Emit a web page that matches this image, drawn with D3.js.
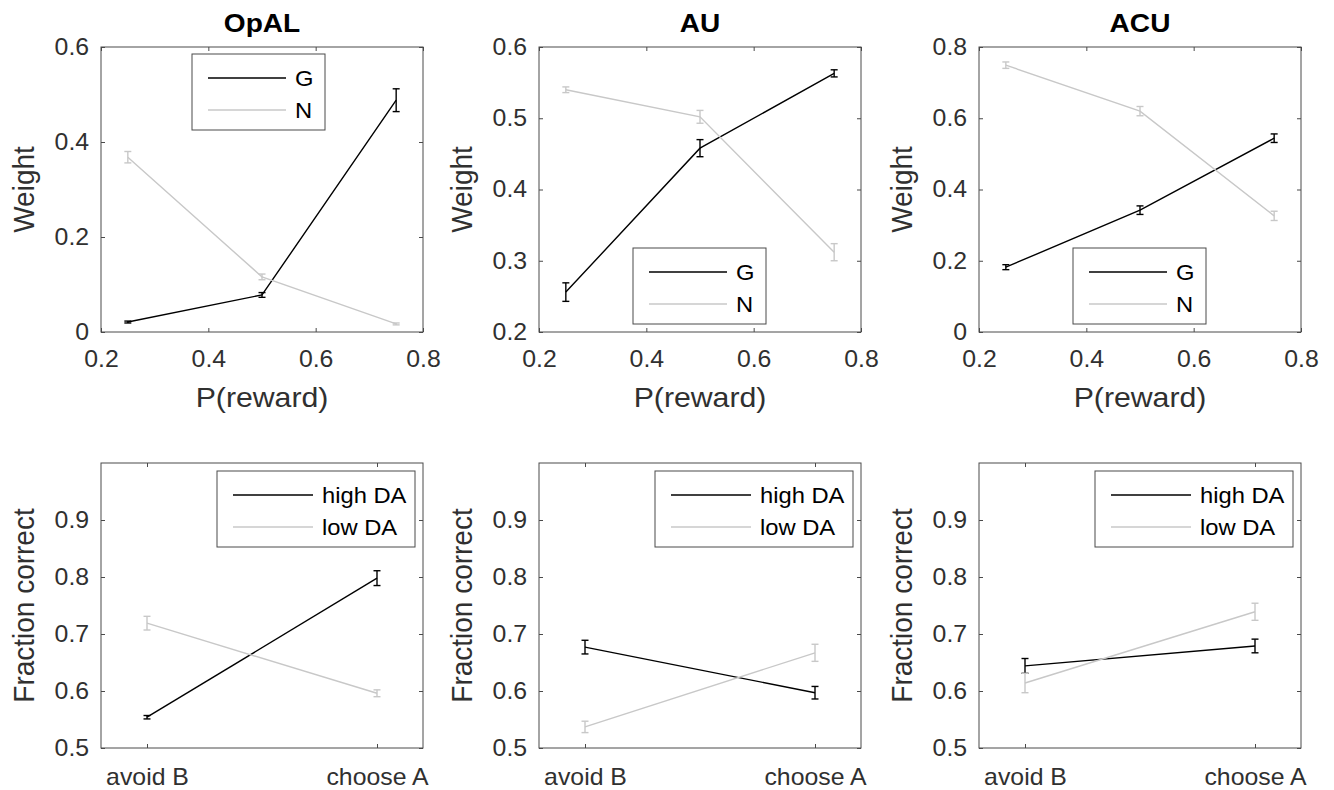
<!DOCTYPE html>
<html>
<head>
<meta charset="utf-8">
<script src="https://cdn.jsdelivr.net/npm/d3@7"></script>
<style>
    body { margin: 0; background: #fff; }
</style>
</head>
<body>
<div id="chart"></div>
<script>
// top row: pathway weights vs reward probability
const models = ["OpAL", "AU", "ACU"];
const pReward = [0.25, 0.5, 0.75];
const rewardTicks = [0.2, 0.4, 0.6, 0.8];
const weightDomains = [[0, 0.6], [0.2, 0.6], [0, 0.8]];
const weightTicks = [[0, 0.2, 0.4, 0.6], [0.2, 0.3, 0.4, 0.5, 0.6], [0, 0.2, 0.4, 0.6, 0.8]];
const gWeight = [[0.021, 0.078, 0.488], [0.256, 0.458, 0.563], [0.182, 0.342, 0.544]];
const gWeightErr = [[0.002, 0.005, 0.024], [0.013, 0.012, 0.005], [0.007, 0.012, 0.012]];
const nWeight = [[0.368, 0.116, 0.017], [0.540, 0.502, 0.312], [0.749, 0.620, 0.326]];
const nWeightErr = [[0.012, 0.006, 0.002], [0.004, 0.009, 0.012], [0.009, 0.013, 0.013]];
const weightLabels = ["G", "N"];

// bottom row: test performance under high / low dopamine
const tests = ["avoid B", "choose A"];
const fracTicks = [0.5, 0.6, 0.7, 0.8, 0.9];
const highDA = [[0.554, 0.798], [0.677, 0.597], [0.644, 0.679]];
const highDAErr = [[0.003, 0.013], [0.012, 0.011], [0.013, 0.012]];
const lowDA = [[0.719, 0.596], [0.537, 0.667], [0.614, 0.739]];
const lowDAErr = [[0.012, 0.006], [0.010, 0.015], [0.017, 0.015]];
const daLabels = ["high DA", "low DA"];

const WIDTH = 1334;
const HEIGHT = 790;
const SX = 1.08; // the source figure is a little stretched horizontally
const FONT = "Arial, 'Liberation Sans', Helvetica, sans-serif";
const AXIS = "#4a4a4a";
const TEXT = "#303030";
const DARK = "#000000";
const LIGHT = "#c8c8c8";

const panelLeft = [101, 539, 979];
const rowTop = [47, 463];
const panelW = 322;
const panelH = 285;

const svg = d3.select("#chart")
    .append("svg")
    .attr("width", WIDTH)
    .attr("height", HEIGHT);

function stretch(x, y, rot) {
    return `translate(${x},${y}) scale(${SX},1)` + (rot ? ` rotate(${rot})` : "");
}

function styleAxis(sel, showText) {
    sel.attr("font-family", FONT).attr("font-size", 23);
    sel.select(".domain").remove();
    sel.selectAll(".tick line").attr("stroke", AXIS);
    if (showText) {
        sel.selectAll(".tick text")
            .attr("fill", TEXT)
            .attr("transform", `scale(${SX},1)`);
    } else {
        sel.selectAll(".tick text").remove();
    }
}

function drawPanel(p) {
    const inner = svg.append("g").attr("transform", `translate(${p.left},${p.top})`);
    const x = p.x;
    const y = p.y;

    // axes, with MATLAB style inward ticks mirrored on all sides
    inner.append("g")
        .attr("transform", `translate(0,${panelH})`)
        .call(d3.axisBottom(x).tickValues(p.xTicks).tickSizeInner(-4).tickSizeOuter(0)
            .tickPadding(p.xPad).tickFormat(p.xFormat))
        .call((s) => styleAxis(s, true));
    inner.append("g")
        .call(d3.axisTop(x).tickValues(p.xTicks).tickSizeInner(-4).tickSizeOuter(0))
        .call((s) => styleAxis(s, false));
    inner.append("g")
        .call(d3.axisLeft(y).tickValues(p.yTicks).tickSizeInner(-4).tickSizeOuter(0)
            .tickPadding(11).tickFormat(d3.format("~g")))
        .call((s) => styleAxis(s, true));
    inner.append("g")
        .attr("transform", `translate(${panelW},0)`)
        .call(d3.axisRight(y).tickValues(p.yTicks).tickSizeInner(-4).tickSizeOuter(0))
        .call((s) => styleAxis(s, false));

    inner.append("rect")
        .attr("width", panelW)
        .attr("height", panelH)
        .attr("fill", "none")
        .attr("stroke", AXIS)
        .attr("stroke-width", 1);

    // series with error bars
    p.series.forEach((s) => {
        const line = d3.line()
            .x((d, i) => x(p.xValues[i]))
            .y((d) => y(d));
        inner.append("path")
            .datum(s.values)
            .attr("d", line)
            .attr("fill", "none")
            .attr("stroke", s.color)
            .attr("stroke-width", 1.4);

        const bars = inner.append("g")
            .selectAll("g")
            .data(s.values)
            .join("g")
            .attr("stroke", s.color)
            .attr("stroke-width", 1.4);
        bars.append("line")
            .attr("x1", (d, i) => x(p.xValues[i]))
            .attr("x2", (d, i) => x(p.xValues[i]))
            .attr("y1", (d, i) => y(d - s.errs[i]))
            .attr("y2", (d, i) => y(d + s.errs[i]));
        [-1, 1].forEach((sign) => {
            bars.append("line")
                .attr("x1", (d, i) => x(p.xValues[i]) - 3.5)
                .attr("x2", (d, i) => x(p.xValues[i]) + 3.5)
                .attr("y1", (d, i) => y(d + sign * s.errs[i]))
                .attr("y2", (d, i) => y(d + sign * s.errs[i]));
        });
    });

    // legend box
    const lg = p.legend;
    const legend = inner.append("g").attr("transform", `translate(${lg.x},${lg.y})`);
    legend.append("rect")
        .attr("width", lg.w)
        .attr("height", 76)
        .attr("fill", "#fff")
        .attr("stroke", AXIS)
        .attr("stroke-width", 1);
    p.series.forEach((s, i) => {
        const ry = 24 + i * 32;
        legend.append("line")
            .attr("x1", 16)
            .attr("x2", lg.lineEnd)
            .attr("y1", ry)
            .attr("y2", ry)
            .attr("stroke", s.color)
            .attr("stroke-width", 1.3);
        legend.append("text")
            .attr("transform", stretch(lg.lineEnd + 9, ry))
            .attr("dy", "0.35em")
            .attr("font-family", FONT)
            .attr("font-size", 22)
            .attr("fill", "#000")
            .text(s.label);
    });

    // labels
    if (p.title) {
        inner.append("text")
            .attr("transform", stretch(panelW / 2, -15))
            .attr("text-anchor", "middle")
            .attr("font-family", FONT)
            .attr("font-size", 26)
            .attr("font-weight", "bold")
            .attr("fill", "#000")
            .text(p.title);
    }
    if (p.xLabel) {
        inner.append("text")
            .attr("transform", stretch(panelW / 2, panelH + 75))
            .attr("text-anchor", "middle")
            .attr("font-family", FONT)
            .attr("font-size", 28)
            .attr("fill", TEXT)
            .text(p.xLabel);
    }
    inner.append("text")
        .attr("transform", stretch(-67, panelH / 2, -90))
        .attr("text-anchor", "middle")
        .attr("font-family", FONT)
        .attr("font-size", 28)
        .attr("fill", TEXT)
        .text(p.yLabel);
}

const topLegendX = [91, 94, 94];
const topLegendY = [7, 201, 201];

models.forEach((m, k) => {
    drawPanel({
        left: panelLeft[k],
        top: rowTop[0],
        x: d3.scaleLinear().domain([0.2, 0.8]).range([0, panelW]),
        y: d3.scaleLinear().domain(weightDomains[k]).range([panelH, 0]),
        xTicks: rewardTicks,
        xValues: pReward,
        xFormat: d3.format("~g"),
        xPad: 19,
        yTicks: weightTicks[k],
        series: [
            { values: gWeight[k], errs: gWeightErr[k], color: DARK, label: weightLabels[0] },
            { values: nWeight[k], errs: nWeightErr[k], color: LIGHT, label: weightLabels[1] }
        ],
        legend: { x: topLegendX[k], y: topLegendY[k], w: 133, lineEnd: 94 },
        title: m,
        xLabel: "P(reward)",
        yLabel: "Weight"
    });

    drawPanel({
        left: panelLeft[k],
        top: rowTop[1],
        x: d3.scalePoint().domain(tests).range([0, panelW]).padding(0.2),
        y: d3.scaleLinear().domain([0.5, 1]).range([panelH, 0]),
        xTicks: tests,
        xValues: tests,
        xFormat: (d) => d,
        xPad: 21,
        yTicks: fracTicks,
        series: [
            { values: highDA[k], errs: highDAErr[k], color: DARK, label: daLabels[0] },
            { values: lowDA[k], errs: lowDAErr[k], color: LIGHT, label: daLabels[1] }
        ],
        legend: { x: panelW - 8 - 198, y: 8, w: 198, lineEnd: 96 },
        yLabel: "Fraction correct"
    });
});
</script>
</body>
</html>
